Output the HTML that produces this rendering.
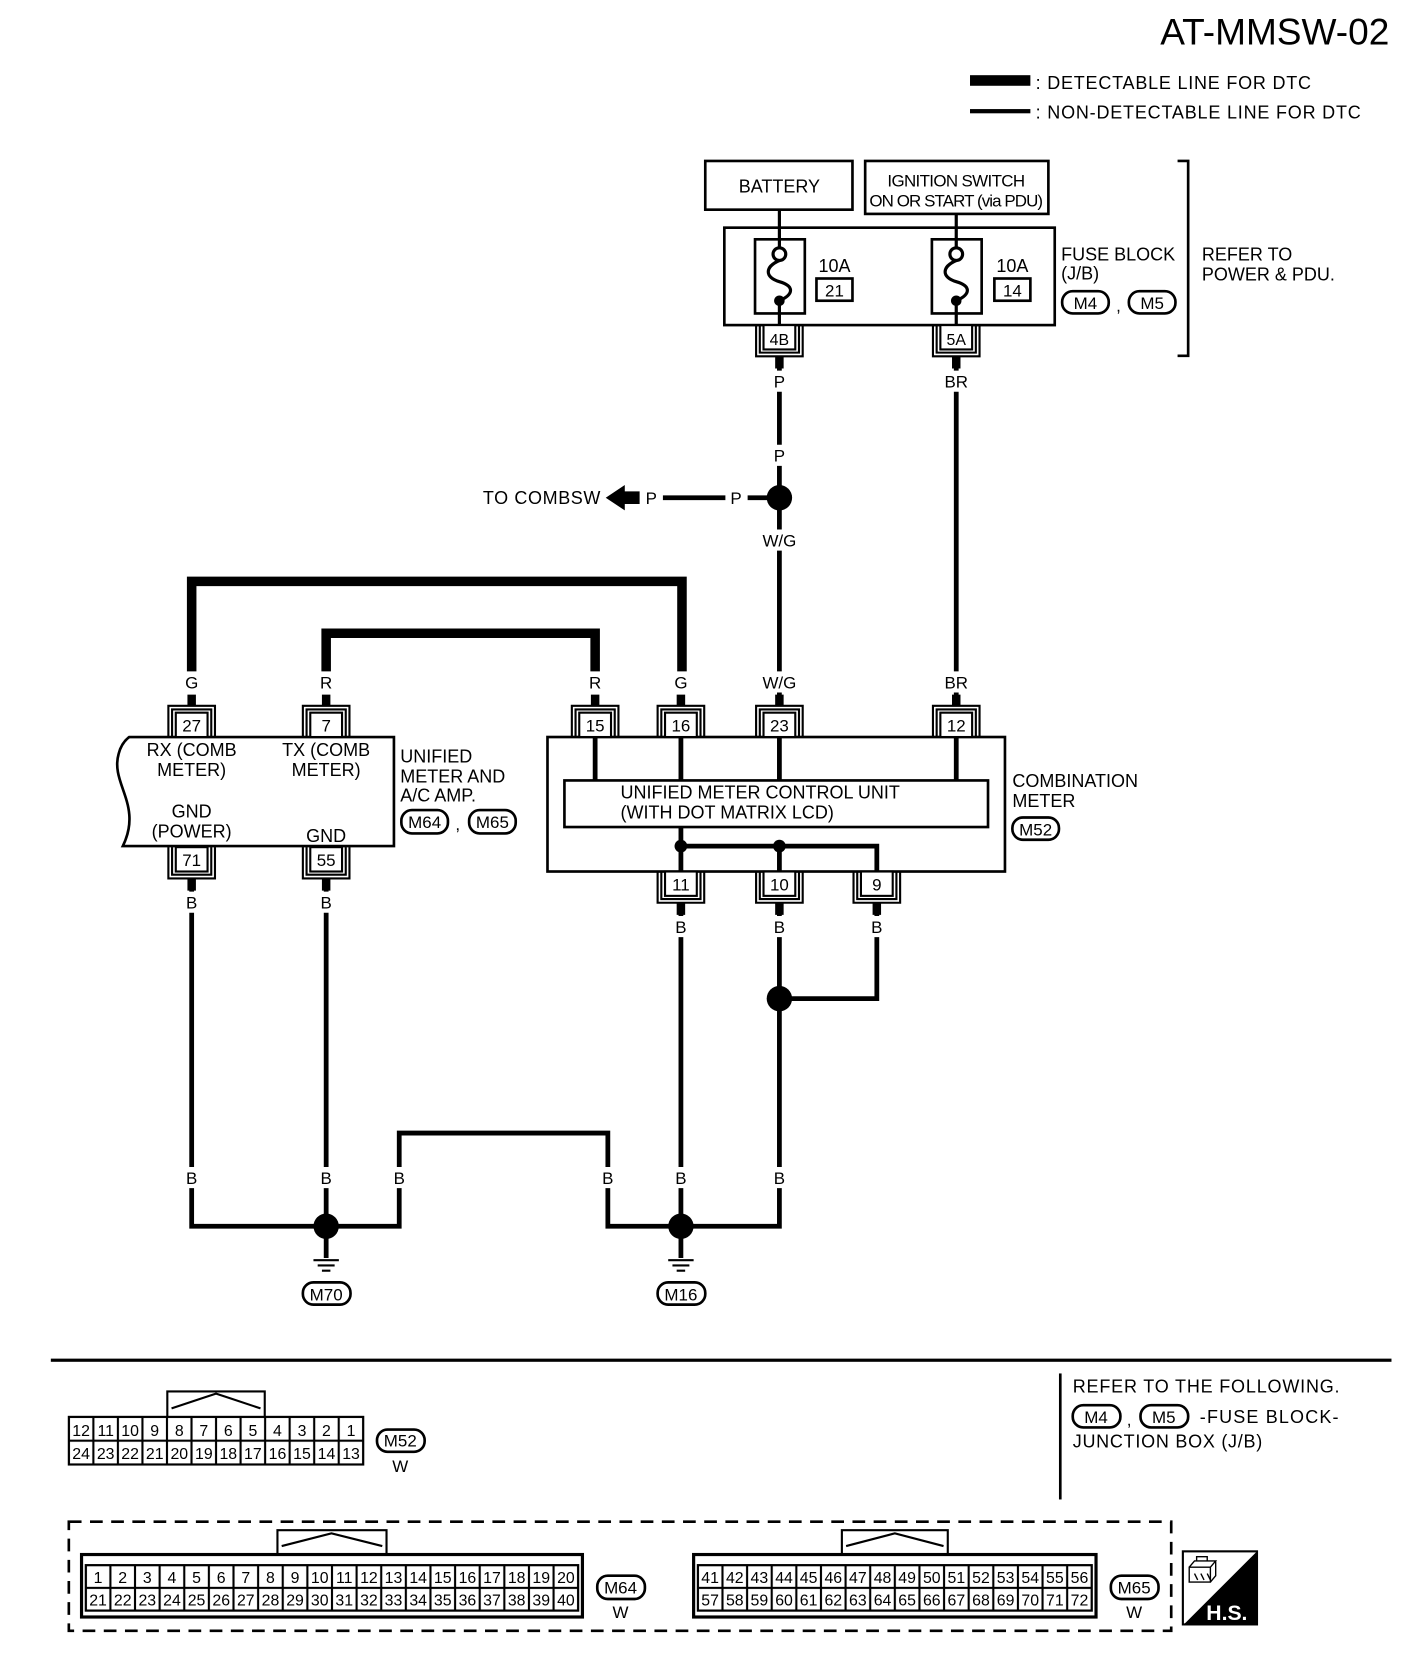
<!DOCTYPE html>
<html><head><meta charset="utf-8"><style>
html,body{margin:0;padding:0;background:#fff;}
svg{display:block;}
text{font-family:"Liberation Sans",Arial,sans-serif;fill:#000;}
</style></head><body>
<svg width="1408" height="1660" viewBox="0 0 1329.6 1567.6" preserveAspectRatio="none" xmlns="http://www.w3.org/2000/svg">
<defs>
<g id="tt" fill="none" stroke="#000" stroke-width="2">
<path d="M-22,0 V-29.5 H22 V0"/><path d="M-18.5,0 V-26 H18.5 V0"/><rect x="-15" y="-23" width="30" height="23" fill="#fff"/>
</g>
<pattern id="g1" x="65" y="1338" width="23.17" height="22.5" patternUnits="userSpaceOnUse"><rect x="0" y="0" width="23.17" height="22.5" fill="none" stroke="#000" stroke-width="2"/></pattern>
<pattern id="g2" x="81" y="1478" width="23.25" height="21.5" patternUnits="userSpaceOnUse"><rect x="0" y="0" width="23.25" height="21.5" fill="none" stroke="#000" stroke-width="2"/></pattern>
<pattern id="g3" x="659" y="1478" width="23.25" height="21.5" patternUnits="userSpaceOnUse"><rect x="0" y="0" width="23.25" height="21.5" fill="none" stroke="#000" stroke-width="2"/></pattern>
</defs>

<!-- title & legend -->
<text x="1312" y="42" font-size="35" text-anchor="end">AT-MMSW-02</text>
<rect x="916" y="71" width="57" height="10" fill="#000"/>
<rect x="916" y="103" width="57" height="4" fill="#000"/>
<text x="978" y="84" font-size="17" textLength="260">: DETECTABLE LINE FOR DTC</text>
<text x="978" y="112" font-size="17" textLength="307">: NON-DETECTABLE LINE FOR DTC</text>

<g fill="none" stroke="#000" stroke-width="2.5">
<rect x="666" y="152" width="139" height="46"/>
<rect x="817" y="152" width="173" height="50"/>
<rect x="684" y="215" width="312" height="92"/>
<rect x="713" y="226" width="47" height="70"/>
<rect x="880" y="226" width="47" height="70"/>
<rect x="771" y="263" width="34" height="21"/>
<rect x="939" y="263" width="34" height="21"/>
<path d="M1112,152 H1122 V336 H1112"/>
<rect x="1003" y="275" width="44" height="21" rx="10"/>
<rect x="1066" y="275" width="44" height="21" rx="10"/>
</g>
<text x="736" y="182" font-size="17" text-anchor="middle">BATTERY</text>
<text x="903" y="176" font-size="16" text-anchor="middle" textLength="130">IGNITION SWITCH</text>
<text x="903" y="195" font-size="16" text-anchor="middle" textLength="164">ON OR START (via PDU)</text>
<!-- fuses -->
<g stroke="#000" stroke-width="3" fill="none">
<path d="M736,198 V233 M903,202 V233"/>
<circle cx="736" cy="240" r="6"/><circle cx="903" cy="240" r="6"/>
<path d="M736,246 C722,252 722,262 736,266 C750,270 750,278 736,284"/>
<path d="M903,246 C889,252 889,262 903,266 C917,270 917,278 903,284"/>
<path d="M736,284 V307 M903,284 V307"/>
</g>
<circle cx="736" cy="284" r="5"/><circle cx="903" cy="284" r="5"/>
<text x="788" y="257" font-size="17" text-anchor="middle">10A</text>
<text x="788" y="280" font-size="16" text-anchor="middle">21</text>
<text x="956" y="257" font-size="17" text-anchor="middle">10A</text>
<text x="956" y="280" font-size="16" text-anchor="middle">14</text>
<text x="1002" y="246" font-size="17">FUSE BLOCK</text>
<text x="1002" y="264" font-size="17">(J/B)</text>
<text x="1025" y="292" font-size="16" text-anchor="middle">M4</text>
<text x="1054" y="294" font-size="16">,</text>
<text x="1088" y="292" font-size="16" text-anchor="middle">M5</text>
<text x="1135" y="246" font-size="17">REFER TO</text>
<text x="1135" y="265" font-size="17">POWER &amp; PDU.</text>

<!-- wires -->
<g stroke="#000" stroke-width="4.5" fill="none">
<path d="M736,336 V350 M736,370 V420 M736,440 V470 M736,470 V500 M736,520 V634 M736,654 V667"/>
<path d="M903,336 V350 M903,370 V634 M903,654 V667"/>
<path d="M736,470 H706 M685,470 H626"/>
<path d="M562,696 V737 M643,696 V737 M736,696 V737 M903,696 V737 M643,781 V823 M643,799 H828 V823 M736,799 V823"/>
<path d="M643,852 V865 M643,885 V1102 M643,1122 V1158"/>
<path d="M736,852 V865 M736,885 V943 M736,943 H828 V885 M828,852 V865 M736,943 V1102 M736,1122 V1158 H643"/>
<path d="M181,829 V842 M181,862 V1102 M181,1122 V1158 H308"/>
<path d="M308,829 V842 M308,862 V1102 M308,1122 V1158 H377 V1122 M377,1102 V1070 H574 V1102 M574,1122 V1158 H643"/>
<path d="M308,1158 V1188 M643,1158 V1188"/>
<path d="M296,1190 H320 M300,1195 H316 M304,1200 H312 M631,1190 H655 M635,1195 H651 M639,1200 H647" stroke-width="2"/>
</g>
<!-- thick terminal stubs -->
<g stroke="#000" stroke-width="8" fill="none">
<path d="M736,336 V348 M903,336 V348"/>
<path d="M181,656 V667 M308,656 V667 M562,656 V667 M643,656 V667 M736,656 V667 M903,656 V667"/>
<path d="M181,829 V841 M308,829 V841 M643,852 V864 M736,852 V864 M828,852 V864"/>
</g>
<g stroke="#000" stroke-width="9" fill="none">
<path d="M181,634 V549 H644 V634"/>
<path d="M308,634 V598 H562 V634"/>
</g>
<g fill="#000">
<circle cx="736" cy="470" r="12"/>
<circle cx="736" cy="943" r="12"/>
<circle cx="308" cy="1158" r="12"/>
<circle cx="643" cy="1158" r="12"/>
<circle cx="643" cy="799" r="6"/><circle cx="736" cy="799" r="6"/>
<path d="M572,470 L590,458 V464 H604 V476 H590 V482 Z"/>
</g>
<g font-size="16" text-anchor="middle">
<text x="736" y="366">P</text><text x="903" y="366">BR</text>
<text x="736" y="436">P</text>
<text x="695" y="476">P</text><text x="615" y="476">P</text>
<text x="736" y="516">W/G</text>
<text x="181" y="650">G</text><text x="308" y="650">R</text><text x="562" y="650">R</text><text x="643" y="650">G</text><text x="736" y="650">W/G</text><text x="903" y="650">BR</text>
<text x="181" y="858">B</text><text x="308" y="858">B</text>
<text x="643" y="881">B</text><text x="736" y="881">B</text><text x="828" y="881">B</text>
<text x="181" y="1118">B</text><text x="308" y="1118">B</text><text x="377" y="1118">B</text><text x="574" y="1118">B</text><text x="643" y="1118">B</text><text x="736" y="1118">B</text>
</g>
<text x="567" y="476" font-size="17" text-anchor="end" textLength="111">TO COMBSW</text>

<!-- 4B / 5A bottom terminals -->
<use href="#tt" transform="translate(736,307) scale(1,-1)"/>
<use href="#tt" transform="translate(903,307) scale(1,-1)"/>
<text x="736" y="326" font-size="15" text-anchor="middle">4B</text>
<text x="903" y="326" font-size="15" text-anchor="middle">5A</text>

<!-- unified meter box -->
<path d="M122,696 H372 V799 H116 C135,760 104,740 112,712 C114,704 118,699 122,696 Z" fill="none" stroke="#000" stroke-width="2.5"/>
<use href="#tt" transform="translate(181,696)"/>
<use href="#tt" transform="translate(308,696)"/>
<use href="#tt" transform="translate(181,800) scale(1,-1)"/>
<use href="#tt" transform="translate(308,800) scale(1,-1)"/>
<g font-size="16" text-anchor="middle">
<text x="181" y="691">27</text><text x="308" y="691">7</text>
<text x="181" y="818">71</text><text x="308" y="818">55</text>
</g>
<g font-size="17" text-anchor="middle">
<text x="181" y="714">RX (COMB</text><text x="181" y="733">METER)</text>
<text x="308" y="714">TX (COMB</text><text x="308" y="733">METER)</text>
<text x="181" y="772">GND</text><text x="181" y="791">(POWER)</text>
<text x="308" y="795">GND</text>
</g>
<g font-size="17">
<text x="378" y="720">UNIFIED</text><text x="378" y="739">METER AND</text><text x="378" y="757">A/C AMP.</text>
</g>
<g fill="none" stroke="#000" stroke-width="2.5">
<rect x="379" y="765" width="44" height="22" rx="10"/><rect x="443" y="765" width="44" height="22" rx="10"/>
<rect x="517" y="696" width="432" height="127"/>
<rect x="533" y="737" width="400" height="44"/>
<rect x="956" y="772" width="44" height="21" rx="10"/>
</g>
<text x="401" y="782" font-size="16" text-anchor="middle">M64</text><text x="430" y="784" font-size="16">,</text><text x="465" y="782" font-size="16" text-anchor="middle">M65</text>
<use href="#tt" transform="translate(562,696)"/><use href="#tt" transform="translate(643,696)"/>
<use href="#tt" transform="translate(736,696)"/><use href="#tt" transform="translate(903,696)"/>
<use href="#tt" transform="translate(643,823) scale(1,-1)"/><use href="#tt" transform="translate(736,823) scale(1,-1)"/><use href="#tt" transform="translate(828,823) scale(1,-1)"/>
<g font-size="16" text-anchor="middle">
<text x="562" y="691">15</text><text x="643" y="691">16</text><text x="736" y="691">23</text><text x="903" y="691">12</text>
<text x="643" y="841">11</text><text x="736" y="841">10</text><text x="828" y="841">9</text>
</g>
<text x="586" y="754" font-size="17">UNIFIED METER CONTROL UNIT</text>
<text x="586" y="773" font-size="17">(WITH DOT MATRIX LCD)</text>
<text x="956" y="743" font-size="17">COMBINATION</text><text x="956" y="762" font-size="17">METER</text>
<text x="978" y="789" font-size="16" text-anchor="middle">M52</text>

<!-- grounds -->
<rect x="286" y="1211" width="45" height="21" rx="10" fill="none" stroke="#000" stroke-width="2.5"/>
<rect x="621" y="1211" width="45" height="21" rx="10" fill="none" stroke="#000" stroke-width="2.5"/>
<text x="308" y="1228" font-size="16" text-anchor="middle">M70</text>
<text x="643" y="1228" font-size="16" text-anchor="middle">M16</text>

<!-- bottom section -->
<rect x="48" y="1283" width="1266" height="3" fill="#000"/>
<rect x="1000" y="1297" width="2.5" height="119" fill="#000"/>
<text x="1013" y="1315" font-size="17" textLength="252">REFER TO THE FOLLOWING.</text>
<g fill="none" stroke="#000" stroke-width="2.5"><rect x="1013" y="1327" width="45" height="21" rx="10"/><rect x="1077" y="1327" width="45" height="21" rx="10"/></g>
<text x="1035" y="1344" font-size="16" text-anchor="middle">M4</text><text x="1064" y="1346" font-size="16">,</text><text x="1099" y="1344" font-size="16" text-anchor="middle">M5</text>
<text x="1133" y="1344" font-size="17" textLength="131">-FUSE BLOCK-</text>
<text x="1013" y="1367" font-size="17" textLength="179">JUNCTION BOX (J/B)</text>

<!-- M52 connector -->
<rect x="65" y="1338" width="278" height="45" fill="url(#g1)" stroke="#000" stroke-width="2"/>
<path d="M158,1338 V1314 H250 V1338 M162,1330 L204,1316 L246,1330" fill="none" stroke="#000" stroke-width="2"/>
<g font-size="15" text-anchor="middle">
<text y="1356"><tspan x="76.6">12</tspan><tspan x="99.8">11</tspan><tspan x="122.9">10</tspan><tspan x="146.1">9</tspan><tspan x="169.3">8</tspan><tspan x="192.5">7</tspan><tspan x="215.6">6</tspan><tspan x="238.8">5</tspan><tspan x="262">4</tspan><tspan x="285.2">3</tspan><tspan x="308.3">2</tspan><tspan x="331.5">1</tspan></text>
<text y="1378"><tspan x="76.6">24</tspan><tspan x="99.8">23</tspan><tspan x="122.9">22</tspan><tspan x="146.1">21</tspan><tspan x="169.3">20</tspan><tspan x="192.5">19</tspan><tspan x="215.6">18</tspan><tspan x="238.8">17</tspan><tspan x="262">16</tspan><tspan x="285.2">15</tspan><tspan x="308.3">14</tspan><tspan x="331.5">13</tspan></text>
</g>
<rect x="356" y="1350" width="45" height="21" rx="10" fill="none" stroke="#000" stroke-width="2.5"/>
<text x="378" y="1366" font-size="16" text-anchor="middle">M52</text>
<text x="378" y="1390" font-size="16" text-anchor="middle">W</text>

<!-- dashed box -->
<rect x="65" y="1437" width="1041" height="103" fill="none" stroke="#000" stroke-width="2.5" stroke-dasharray="12,8"/>

<!-- M64 -->
<rect x="77" y="1468" width="473" height="59" fill="none" stroke="#000" stroke-width="3"/>
<rect x="81" y="1478" width="465" height="43" fill="url(#g2)" stroke="#000" stroke-width="2"/>
<path d="M262,1468 V1445 H365 V1468 M266,1460 L313,1448 L361,1460" fill="none" stroke="#000" stroke-width="2"/>
<g font-size="15" text-anchor="middle">
<text y="1495"><tspan x="92.6">1</tspan><tspan x="115.9">2</tspan><tspan x="139.1">3</tspan><tspan x="162.4">4</tspan><tspan x="185.6">5</tspan><tspan x="208.9">6</tspan><tspan x="232.1">7</tspan><tspan x="255.4">8</tspan><tspan x="278.6">9</tspan><tspan x="301.9">10</tspan><tspan x="325.1">11</tspan><tspan x="348.4">12</tspan><tspan x="371.6">13</tspan><tspan x="394.9">14</tspan><tspan x="418.1">15</tspan><tspan x="441.4">16</tspan><tspan x="464.6">17</tspan><tspan x="487.9">18</tspan><tspan x="511.1">19</tspan><tspan x="534.4">20</tspan></text>
<text y="1516"><tspan x="92.6">21</tspan><tspan x="115.9">22</tspan><tspan x="139.1">23</tspan><tspan x="162.4">24</tspan><tspan x="185.6">25</tspan><tspan x="208.9">26</tspan><tspan x="232.1">27</tspan><tspan x="255.4">28</tspan><tspan x="278.6">29</tspan><tspan x="301.9">30</tspan><tspan x="325.1">31</tspan><tspan x="348.4">32</tspan><tspan x="371.6">33</tspan><tspan x="394.9">34</tspan><tspan x="418.1">35</tspan><tspan x="441.4">36</tspan><tspan x="464.6">37</tspan><tspan x="487.9">38</tspan><tspan x="511.1">39</tspan><tspan x="534.4">40</tspan></text>
</g>
<rect x="564" y="1488" width="45" height="22" rx="10" fill="none" stroke="#000" stroke-width="2.5"/>
<text x="586" y="1505" font-size="16" text-anchor="middle">M64</text>
<text x="586" y="1528" font-size="16" text-anchor="middle">W</text>

<!-- M65 -->
<rect x="655" y="1468" width="380" height="59" fill="none" stroke="#000" stroke-width="3"/>
<rect x="659" y="1478" width="372" height="43" fill="url(#g3)" stroke="#000" stroke-width="2"/>
<path d="M795,1468 V1445 H895 V1468 M799,1460 L845,1448 L891,1460" fill="none" stroke="#000" stroke-width="2"/>
<g font-size="15" text-anchor="middle">
<text y="1495"><tspan x="670.6">41</tspan><tspan x="693.9">42</tspan><tspan x="717.1">43</tspan><tspan x="740.4">44</tspan><tspan x="763.6">45</tspan><tspan x="786.9">46</tspan><tspan x="810.1">47</tspan><tspan x="833.4">48</tspan><tspan x="856.6">49</tspan><tspan x="879.9">50</tspan><tspan x="903.1">51</tspan><tspan x="926.4">52</tspan><tspan x="949.6">53</tspan><tspan x="972.9">54</tspan><tspan x="996.1">55</tspan><tspan x="1019.4">56</tspan></text>
<text y="1516"><tspan x="670.6">57</tspan><tspan x="693.9">58</tspan><tspan x="717.1">59</tspan><tspan x="740.4">60</tspan><tspan x="763.6">61</tspan><tspan x="786.9">62</tspan><tspan x="810.1">63</tspan><tspan x="833.4">64</tspan><tspan x="856.6">65</tspan><tspan x="879.9">66</tspan><tspan x="903.1">67</tspan><tspan x="926.4">68</tspan><tspan x="949.6">69</tspan><tspan x="972.9">70</tspan><tspan x="996.1">71</tspan><tspan x="1019.4">72</tspan></text>
</g>
<rect x="1049" y="1488" width="45" height="22" rx="10" fill="none" stroke="#000" stroke-width="2.5"/>
<text x="1071" y="1505" font-size="16" text-anchor="middle">M65</text>
<text x="1071" y="1528" font-size="16" text-anchor="middle">W</text>

<!-- H.S. icon -->
<rect x="1117" y="1465" width="70" height="69" fill="#fff" stroke="#000" stroke-width="2"/>
<path d="M1187,1465 V1534 H1118 Z" fill="#000"/>
<g fill="none" stroke="#000" stroke-width="1.3">
<path d="M1123,1480 H1143 V1494 H1123 Z M1123,1480 L1128,1474 H1148 L1143,1480 M1148,1474 V1488 L1143,1494 M1130,1474 V1470 H1140 V1474"/>
<path d="M1128,1486 L1131,1492 M1134,1486 L1137,1492 M1140,1486 L1143,1492"/>
</g>
<text x="1178" y="1530" font-size="20" font-weight="bold" text-anchor="end" style="fill:#fff">H.S.</text>
</svg>
</body></html>
